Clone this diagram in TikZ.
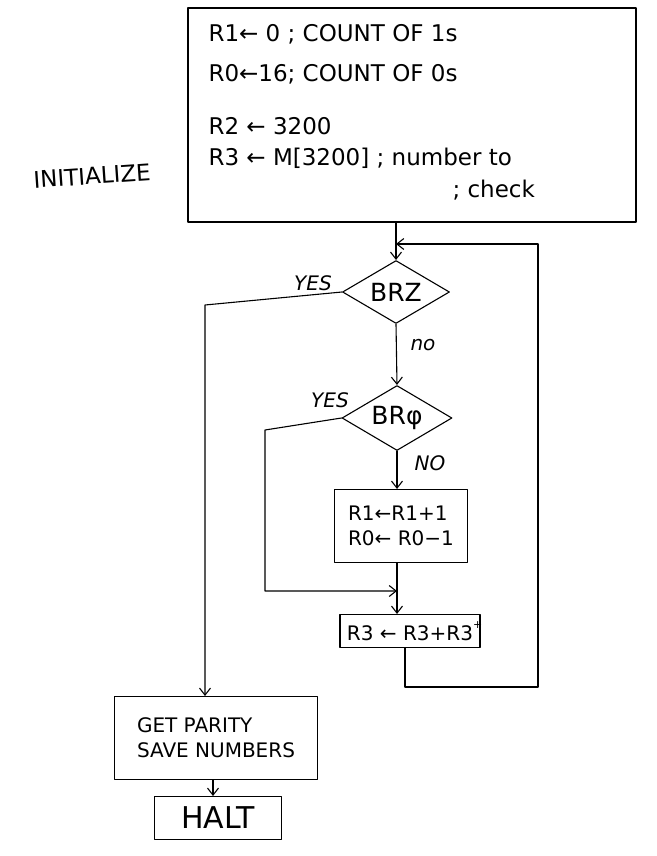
\documentclass[tikz,border=0pt]{standalone}
\usepackage{fontspec}
\setmainfont{DejaVu Sans}
\usetikzlibrary{shapes.geometric,arrows.meta}
\begin{document}
\begin{tikzpicture}[x=1pt,y=-1pt,
  line width=1.1pt, line cap=round, line join=round,
  box/.style={draw, rectangle, inner sep=0pt, font=\fontsize{20}{25}\selectfont},
  dec/.style={draw, diamond, aspect=1.7, inner sep=0pt, font=\fontsize{25}{30}\selectfont},
  txt/.style={font=\fontsize{23}{28}\selectfont, inner sep=0pt, anchor=west},
  lbl/.style={font=\fontsize{20}{24}\selectfont\itshape, inner sep=0pt},
  flow/.style={-{Straight Barb[length=7pt,width=11pt]}}]
\useasboundingbox (0,0) rectangle (656,856);
% initialise box
\node[box, minimum width=448pt, minimum height=214pt] (init) at (412,115) {};
\node[txt] (t1) at (208,34) {R1← 0 ; COUNT OF 1s};
\node[txt] (t2) at (208,74) {R0←16; COUNT OF 0s};
\node[txt] (t3) at (208,126) {R2 ← 3200};
\node[txt] (t4) at (208,158) {R3 ← M[3200] ; number to};
\node[txt] (t5) at (452,190) {; check};
\node[font=\fontsize{23}{28}\selectfont, rotate=4, inner sep=0pt] (ini) at (92,176) {INITIALIZE};
% decisions
\node[dec, minimum width=107pt, minimum height=63pt] (brz) at (396,292) {BRZ};
\node[dec, minimum width=110pt, minimum height=65pt] (brp) at (397,418) {BRφ};
\node[box, minimum width=133pt, minimum height=73pt, align=left] (upd) at (401,526) {R1←R1+1\\R0← R0−1};
\node[box, minimum width=140pt, minimum height=33pt] (r3) at (410,631) {R3 ← R3+R3\rlap{\raisebox{1.1ex}{\fontsize{11}{11}\selectfont +}}};
\node[box, minimum width=203pt, minimum height=83pt, align=left] (par) at (216,738) {GET PARITY\\SAVE NUMBERS};
\node[box, minimum width=127pt, minimum height=43pt, font=\fontsize{30}{34}\selectfont] (halt) at (218,818) {HALT};
% labels
\node[lbl] (y1) at (313,283) {YES};
\node[lbl] (n1) at (423,345) {no};
\node[lbl] (y2) at (330,400) {YES};
\node[lbl] (n2) at (430,463) {NO};
% coordinates
\coordinate (jt) at (396,244);
\coordinate (rt) at (538,244);
\coordinate (rb) at (538,687);
\coordinate (lb) at (405,687);
\coordinate (yl) at (205,305);
\coordinate (yl2) at (265,430);
\coordinate (yl2b) at (265,591);
% connectors
\draw[flow] (init.south -| brz.north) -- (brz.north);
\draw[flow] (r3.south -| lb) -- (lb) -- (rb) -- (rt) -- (jt);
\draw[flow] (brz.west) -- (yl) -- (yl |- par.north);
\draw[flow] (brz.south) -- (brp.north);
\draw[flow] (brp.south) -- (brp.south |- upd.north);
\draw[flow] (upd.south -| brp.south) -- (r3.north -| brp.south);
\draw[flow] (brp.west) -- (yl2) -- (yl2b) -- (yl2b -| brp.south);
\draw[flow] (par.south -| 213,0) -- (halt.north -| 213,0);
\end{tikzpicture}
\end{document}
